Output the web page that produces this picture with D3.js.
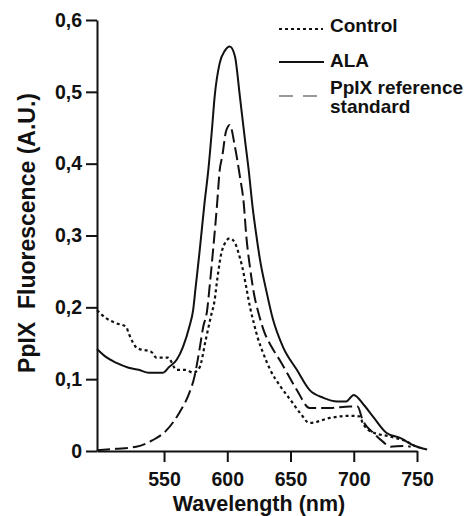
<!DOCTYPE html>
<html>
<head>
<meta charset="utf-8">
<script src="https://cdn.jsdelivr.net/npm/d3@7"></script>
<style>
  body { margin: 0; background: #fff; }
  svg { display: block; }
  text { font-family: "Liberation Sans", Arial, Helvetica, sans-serif; font-weight: bold; fill: #111; }
</style>
</head>
<body>
<div id="chart"></div>
<script>
// Wavelength (nm) and fluorescence values
const controlNm  = [497, 504, 512, 520, 522, 529, 540, 544, 553, 560, 567, 573, 578, 583, 587, 590, 592, 596, 602, 606, 609, 612, 615, 618, 621, 624, 628, 634, 642, 650, 658, 665, 681, 697, 705, 707, 715, 729, 742, 751];
const controlVal = [0.196, 0.185, 0.178, 0.173, 0.164, 0.143, 0.138, 0.130, 0.130, 0.113, 0.113, 0.109, 0.116, 0.155, 0.187, 0.210, 0.238, 0.280, 0.296, 0.290, 0.275, 0.255, 0.228, 0.200, 0.178, 0.158, 0.138, 0.113, 0.090, 0.071, 0.052, 0.039, 0.046, 0.049, 0.048, 0.039, 0.026, 0.020, 0.013, 0.004];

const alaNm  = [497, 504, 512, 522, 530, 538, 549, 554, 560, 565, 570, 573, 575, 578, 582, 585, 588, 590, 594, 598, 602, 606, 610, 614, 617, 620, 623, 626, 631, 636, 644, 655, 665, 676, 687, 694, 700, 708, 716, 726, 737, 747, 758];
const alaVal = [0.142, 0.131, 0.123, 0.116, 0.113, 0.109, 0.109, 0.117, 0.127, 0.145, 0.173, 0.196, 0.228, 0.276, 0.345, 0.391, 0.450, 0.493, 0.540, 0.557, 0.563, 0.550, 0.493, 0.433, 0.390, 0.340, 0.300, 0.265, 0.222, 0.184, 0.145, 0.113, 0.085, 0.074, 0.069, 0.069, 0.078, 0.064, 0.046, 0.025, 0.018, 0.008, 0.002];

const ppixNm  = [497, 512, 528, 541, 552, 562, 570, 574, 578, 581, 584, 586, 589, 592, 594, 596, 599, 602, 606, 610, 613, 615, 618, 621, 625, 629, 635, 642, 655, 665, 681, 697, 703, 707, 715, 723, 729, 739, 745];
const ppixVal = [0.001, 0.003, 0.006, 0.015, 0.029, 0.053, 0.081, 0.103, 0.141, 0.173, 0.195, 0.228, 0.284, 0.345, 0.391, 0.410, 0.445, 0.454, 0.424, 0.382, 0.345, 0.300, 0.255, 0.220, 0.190, 0.167, 0.145, 0.125, 0.085, 0.060, 0.060, 0.062, 0.062, 0.043, 0.026, 0.013, 0.006, 0.007, 0.006];

const xTicks = [550, 600, 650, 700, 750];
const yTicks = [0, 0.1, 0.2, 0.3, 0.4, 0.5, 0.6];

const width = 472, height = 516;

const svg = d3.select("#chart").append("svg")
  .attr("width", width)
  .attr("height", height);

const x = d3.scaleLinear().domain([497, 750]).range([97, 417]);
const y = d3.scaleLinear().domain([0, 0.6]).range([451, 20]);

// Axes
const xAxis = d3.axisBottom(x).tickValues(xTicks).tickFormat(d3.format("d"))
  .tickSize(11).tickPadding(10).tickSizeOuter(0);
const yAxis = d3.axisLeft(y).tickValues(yTicks)
  .tickFormat(d => d === 0 ? "0" : d3.format(".1f")(d).replace(".", ","))
  .tickSize(11).tickPadding(4).tickSizeOuter(0);

const gx = svg.append("g").attr("transform", `translate(0,${y(0)})`).call(xAxis);
const gy = svg.append("g").attr("transform", `translate(${x(497)},0)`).call(yAxis);

[gx, gy].forEach(g => {
  g.selectAll("path, line").attr("stroke", "#111").attr("stroke-width", 2);
  g.selectAll("text").style("font-size", "19.5px").attr("fill", "#111");
});

// Axis labels
svg.append("text")
  .attr("x", 259)
  .attr("y", 511)
  .attr("text-anchor", "middle")
  .style("font-size", "21.5px")
  .text("Wavelength (nm)");

svg.append("text")
  .attr("transform", "translate(35,233) rotate(-90)")
  .attr("text-anchor", "middle")
  .style("font-size", "23px")
  .style("white-space", "pre")
  .text("PpIX  Fluorescence (A.U.)");

// Lines
const makeLine = (nm, vals) => d3.line()
  .x((d, i) => x(nm[i]))
  .y(d => y(d))
  .curve(d3.curveMonotoneX)(vals);

svg.append("path")
  .attr("d", makeLine(ppixNm, ppixVal))
  .attr("fill", "none")
  .attr("stroke", "#111")
  .attr("stroke-width", 2)
  .attr("stroke-dasharray", "13,5");

svg.append("path")
  .attr("d", makeLine(controlNm, controlVal))
  .attr("fill", "none")
  .attr("stroke", "#111")
  .attr("stroke-width", 2.2)
  .attr("stroke-dasharray", "3,3");

svg.append("path")
  .attr("d", makeLine(alaNm, alaVal))
  .attr("fill", "none")
  .attr("stroke", "#111")
  .attr("stroke-width", 2);

// Legend
const legend = svg.append("g");
const legendItems = [
  { label: ["Control"], y: 29, dash: "3,3", color: "#111", x2: 323, ty: 32 },
  { label: ["ALA"], y: 62, dash: null, color: "#111", x2: 324, ty: 67 },
  { label: ["PpIX reference", "standard"], y: 96, dash: "14,10", color: "#999", x2: 317, ty: 94 }
];
legendItems.forEach(it => {
  legend.append("line")
    .attr("x1", 279).attr("x2", it.x2)
    .attr("y1", it.y).attr("y2", it.y)
    .attr("stroke", it.color)
    .attr("stroke-width", 2.2)
    .attr("stroke-dasharray", it.dash);
  it.label.forEach((t, j) => {
    legend.append("text")
      .attr("x", 330)
      .attr("y", it.ty + j * 19)
      .style("font-size", "19px")
      .text(t);
  });
});
</script>
</body>
</html>
